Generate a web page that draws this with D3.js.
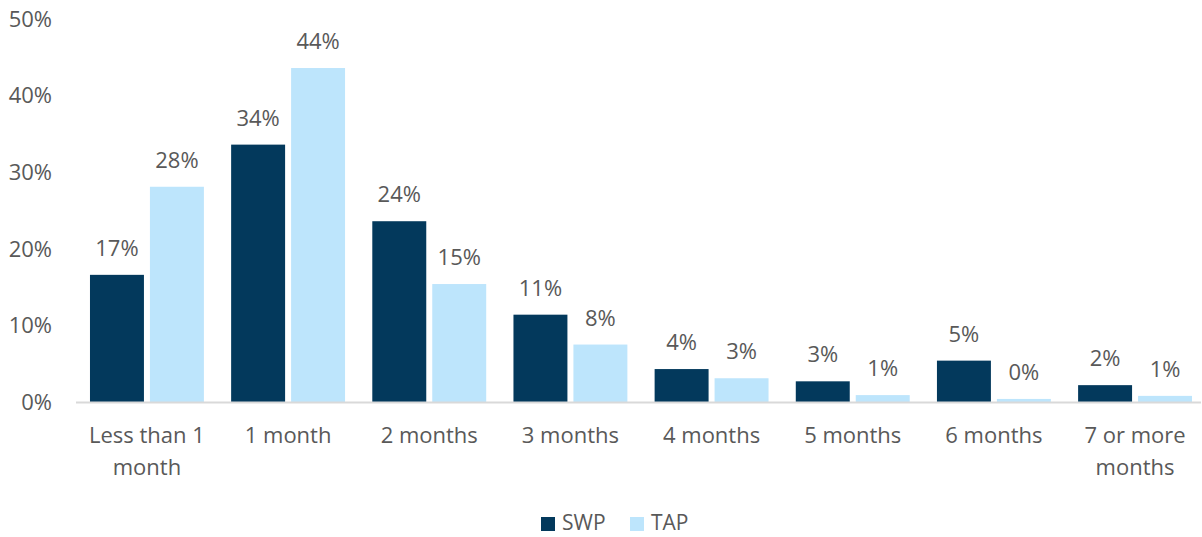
<!DOCTYPE html>
<html>
<head>
<meta charset="utf-8">
<script src="https://cdn.jsdelivr.net/npm/d3@7"></script>
<style>
  body { margin: 0; background: #fff; }
  text { font-family: "Open Sans", sans-serif; fill: #595959; }
</style>
</head>
<body>
<div id="chart"></div>
<script>
const width = 1202;
const height = 537;

// Data
const categories = ["Less than 1 month", "1 month", "2 months", "3 months", "4 months", "5 months", "6 months", "7 or more months"];
const categoryLines = [["Less than 1", "month"], ["1 month"], ["2 months"], ["3 months"], ["4 months"], ["5 months"], ["6 months"], ["7 or more", "months"]];
const seriesNames = ["SWP", "TAP"];
const swp = [16.6, 33.6, 23.6, 11.4, 4.3, 2.7, 5.4, 2.2];
const tap = [28.1, 43.6, 15.4, 7.5, 3.1, 0.9, 0.4, 0.8];
const yTicks = [0, 10, 20, 30, 40, 50];
const colors = ["#03395c", "#bde5fc"];

const margin = { top: 19, right: 1, bottom: 135, left: 76 };

const svg = d3.select("#chart")
  .append("svg")
  .attr("width", width)
  .attr("height", height);

// band scale runs a little past the right edge, as in the original
const x = d3.scaleBand()
  .domain(categories)
  .range([margin.left, 1206])
  .paddingInner(0.193)
  .paddingOuter(0.099);

const x1 = d3.scaleBand()
  .domain(seriesNames)
  .range([0, x.bandwidth()])
  .paddingInner(0.1);

const y = d3.scaleLinear()
  .domain([0, 50])
  .range([height - margin.bottom, margin.top]);

// Y axis labels (no line)
svg.append("g")
  .selectAll("text")
  .data(yTicks)
  .enter()
  .append("text")
  .attr("x", 52)
  .attr("y", d => y(d))
  .attr("dy", "0.35em")
  .attr("text-anchor", "end")
  .style("font-size", "22px")
  .text(d => d + "%");

// Bars
const table = categories.map((c, i) => ({ cat: c, values: [swp[i], tap[i]] }));

const groups = svg.append("g")
  .selectAll("g")
  .data(table)
  .enter()
  .append("g")
  .attr("transform", d => `translate(${x(d.cat)},0)`);

groups.selectAll("rect")
  .data(d => d.values.map((v, j) => ({ key: seriesNames[j], v, j })))
  .enter()
  .append("rect")
  .attr("x", d => x1(d.key))
  .attr("y", d => y(d.v))
  .attr("width", x1.bandwidth())
  .attr("height", d => y(0) - y(d.v))
  .attr("fill", d => colors[d.j]);

groups.selectAll(".lbl")
  .data(d => d.values.map((v, j) => ({ key: seriesNames[j], v })))
  .enter()
  .append("text")
  .attr("class", "lbl")
  .attr("x", d => x1(d.key) + x1.bandwidth() / 2)
  .attr("y", d => y(d.v) - 19)
  .attr("text-anchor", "middle")
  .style("font-size", "22px")
  .text(d => Math.round(d.v) + "%");

// X axis line
svg.append("line")
  .attr("x1", margin.left)
  .attr("x2", width - margin.right)
  .attr("y1", y(0) + 0.5)
  .attr("y2", y(0) + 0.5)
  .attr("stroke", "#d9d9d9")
  .attr("stroke-width", 2);

// Category labels
const catText = svg.append("g")
  .selectAll("text")
  .data(categories)
  .enter()
  .append("text")
  .attr("text-anchor", "middle")
  .attr("x", d => x(d) + x.bandwidth() / 2)
  .attr("y", 443)
  .style("font-size", "22px");

catText.selectAll("tspan")
  .data((d, i) => categoryLines[i])
  .enter()
  .append("tspan")
  .attr("x", function () { return d3.select(this.parentNode).attr("x"); })
  .attr("dy", (d, i) => i === 0 ? 0 : 32)
  .text(d => d);

// Legend
const legend = svg.append("g");
const legendX = [541, 630];
seriesNames.forEach((s, i) => {
  legend.append("rect")
    .attr("x", legendX[i])
    .attr("y", 517)
    .attr("width", 14)
    .attr("height", 14)
    .attr("fill", colors[i]);
  legend.append("text")
    .attr("x", legendX[i] + 21)
    .attr("y", 530)
    .style("font-size", "21px")
    .text(s);
});
</script>
</body>
</html>
